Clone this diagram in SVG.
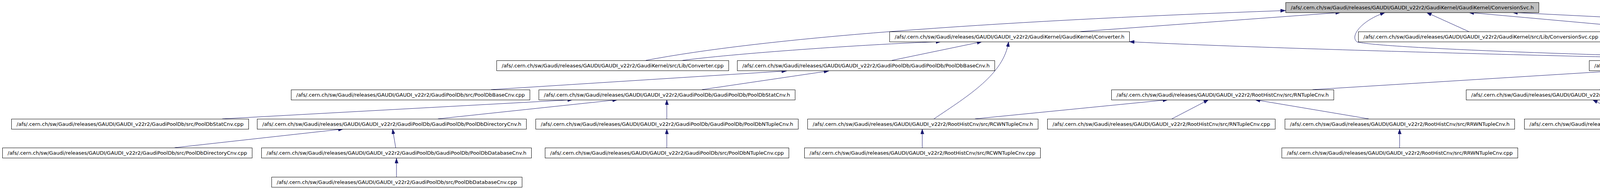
<svg xmlns="http://www.w3.org/2000/svg" width="6739" height="485" viewBox="0 0 6739 485">
<style>
.node rect{fill:#ffffff;stroke:#000000;stroke-width:1}
.node.root rect{fill:#bfbfbf}
.node text{font-family:"DejaVu Sans","Liberation Sans",sans-serif;font-size:13px;text-anchor:middle;fill:#000000}
.edges path{fill:none;stroke:#191970;stroke-width:1;marker-end:url(#arr)}
</style>
<defs>
<marker id="arr" markerUnits="userSpaceOnUse" markerWidth="13" markerHeight="9" refX="13" refY="4.5" orient="auto">
<path d="M0,0 L13,4.5 L0,9 z" fill="#191970" stroke="#191970" stroke-width="0.5"/>
</marker>
</defs>
<rect x="0" y="0" width="6739" height="485" fill="#ffffff"/>
<g class="edges" id="edges">
<path d="M1653,155 Q2100,70 3291,27"/>
<path d="M1747,155 C1900,135 2250,112 2409,107"/>
<path d="M2766,81 L3432,32"/>
<path d="M3760,81 L3652,32"/>
<path d="M4304,81 L3760,32"/>
<path d="M4855,81 L3872,32"/>
<path d="M2283,155 L2514,107"/>
<path d="M2391,305 C2480,245 2570,190 2582,107"/>
<path d="M4560,155 C4300,152 3300,128 2891,107"/>
<path d="M4665,155 C4200,146 3560,126 3475,108 C3455,96 3480,55 3546,32"/>
<path d="M5334,155 L4642,107"/>
<path d="M1257,230 L2014,182"/>
<path d="M1797,230 L2122,182"/>
<path d="M3360,230 L4135,182"/>
<path d="M4095,230 L4290,182"/>
<path d="M4602,230 L4409,182"/>
<path d="M5100,230 L4509,182"/>
<path d="M6150,230 L4613,182"/>
<path d="M6185,230 L4626,182"/>
<path d="M6195,230 L5193,182"/>
<path d="M569,305 L1466,256"/>
<path d="M1121,305 L1581,256"/>
<path d="M1707,305 L1707,256"/>
<path d="M2496,305 L2990,256"/>
<path d="M3000,305 L3094,256"/>
<path d="M3504,305 L3213,256"/>
<path d="M4174,305 L4077,256"/>
<path d="M4667,305 L4178,256"/>
<path d="M5269,305 L4790,256"/>
<path d="M5887,305 L5399,256"/>
<path d="M447,379 L879,331"/>
<path d="M1013,379 L1005,331"/>
<path d="M1707,379 L1707,331"/>
<path d="M2361,379 L2361,331"/>
<path d="M3583,379 L3583,331"/>
<path d="M4797,379 L4797,331"/>
<path d="M1015,454 L1015,406"/>
</g>
<g class="node root" id="n0"><rect x="3291.5" y="6.5" width="648" height="26"/><text x="3615.5" y="24" textLength="622" lengthAdjust="spacingAndGlyphs">/afs/.cern.ch/sw/Gaudi/releases/GAUDI/GAUDI_v22r2/GaudiKernel/GaudiKernel/ConversionSvc.h</text></g>
<g class="node" id="n1"><rect x="2277.5" y="81.5" width="614" height="26"/><text x="2584.5" y="99" textLength="588" lengthAdjust="spacingAndGlyphs">/afs/.cern.ch/sw/Gaudi/releases/GAUDI/GAUDI_v22r2/GaudiKernel/GaudiKernel/Converter.h</text></g>
<g class="node" id="n2"><rect x="3477.5" y="81.5" width="627" height="26"/><text x="3791" y="99" textLength="601" lengthAdjust="spacingAndGlyphs">/afs/.cern.ch/sw/Gaudi/releases/GAUDI/GAUDI_v22r2/GaudiKernel/src/Lib/ConversionSvc.cpp</text></g>
<g class="node" id="n3"><rect x="4127.5" y="81.5" width="652" height="26"/><text x="4453.5" y="99" textLength="626" lengthAdjust="spacingAndGlyphs">/afs/.cern.ch/sw/Gaudi/releases/GAUDI/GAUDI_v22r2/GaudiPoolDb/GaudiPoolDb/PoolDbCnvSvc.h</text></g>
<g class="node" id="n4"><rect x="4802.5" y="81.5" width="629" height="26"/><text x="5117" y="99" textLength="603" lengthAdjust="spacingAndGlyphs">/afs/.cern.ch/sw/Gaudi/releases/GAUDI/GAUDI_v22r2/GaudiSvc/src/NTupleSvc/NTupleSvc.cpp</text></g>
<g class="node" id="n5"><rect x="1271.5" y="155.5" width="594" height="26"/><text x="1568.5" y="173" textLength="568" lengthAdjust="spacingAndGlyphs">/afs/.cern.ch/sw/Gaudi/releases/GAUDI/GAUDI_v22r2/GaudiKernel/src/Lib/Converter.cpp</text></g>
<g class="node" id="n6"><rect x="1887.5" y="155.5" width="659" height="26"/><text x="2217" y="173" textLength="633" lengthAdjust="spacingAndGlyphs">/afs/.cern.ch/sw/Gaudi/releases/GAUDI/GAUDI_v22r2/GaudiPoolDb/GaudiPoolDb/PoolDbBaseCnv.h</text></g>
<g class="node" id="n7"><rect x="4068.5" y="155.5" width="563" height="26"/><text x="4350" y="173" textLength="537" lengthAdjust="spacingAndGlyphs">/afs/.cern.ch/sw/Gaudi/releases/GAUDI/GAUDI_v22r2/RootHistCnv/src/RConverter.h</text></g>
<g class="node" id="n8"><rect x="4655.5" y="155.5" width="542" height="26"/><text x="4926.5" y="173" textLength="516" lengthAdjust="spacingAndGlyphs">/afs/.cern.ch/sw/Gaudi/releases/GAUDI/GAUDI_v22r2/RootHistCnv/src/PersSvc.h</text></g>
<g class="node" id="n9"><rect x="5219.5" y="155.5" width="604" height="26"/><text x="5521.5" y="173" textLength="578" lengthAdjust="spacingAndGlyphs">/afs/.cern.ch/sw/Gaudi/releases/GAUDI/GAUDI_v22r2/GaudiPoolDb/src/PoolDbCnvSvc.cpp</text></g>
<g class="node" id="n10"><rect x="745.5" y="230.5" width="611" height="26"/><text x="1051" y="248" textLength="585" lengthAdjust="spacingAndGlyphs">/afs/.cern.ch/sw/Gaudi/releases/GAUDI/GAUDI_v22r2/GaudiPoolDb/src/PoolDbBaseCnv.cpp</text></g>
<g class="node" id="n11"><rect x="1379.5" y="230.5" width="656" height="26"/><text x="1707.5" y="248" textLength="630" lengthAdjust="spacingAndGlyphs">/afs/.cern.ch/sw/Gaudi/releases/GAUDI/GAUDI_v22r2/GaudiPoolDb/GaudiPoolDb/PoolDbStatCnv.h</text></g>
<g class="node" id="n12"><rect x="2845.5" y="230.5" width="569" height="26"/><text x="3130" y="248" textLength="543" lengthAdjust="spacingAndGlyphs">/afs/.cern.ch/sw/Gaudi/releases/GAUDI/GAUDI_v22r2/RootHistCnv/src/RNTupleCnv.h</text></g>
<g class="node" id="n13"><rect x="3753.5" y="230.5" width="584" height="26"/><text x="4045.5" y="248" textLength="558" lengthAdjust="spacingAndGlyphs">/afs/.cern.ch/sw/Gaudi/releases/GAUDI/GAUDI_v22r2/RootHistCnv/src/RDirectoryCnv.h</text></g>
<g class="node" id="n14"><rect x="4362.5" y="230.5" width="590" height="26"/><text x="4657.5" y="248" textLength="564" lengthAdjust="spacingAndGlyphs">/afs/.cern.ch/sw/Gaudi/releases/GAUDI/GAUDI_v22r2/RootHistCnv/src/RHistogramCnv.h</text></g>
<g class="node" id="n15"><rect x="4976.5" y="230.5" width="574" height="26"/><text x="5263.5" y="248" textLength="548" lengthAdjust="spacingAndGlyphs">/afs/.cern.ch/sw/Gaudi/releases/GAUDI/GAUDI_v22r2/RootHistCnv/src/DirectoryCnv.h</text></g>
<g class="node" id="n16"><rect x="5574.5" y="230.5" width="580" height="26"/><text x="5864.5" y="248" textLength="554" lengthAdjust="spacingAndGlyphs">/afs/.cern.ch/sw/Gaudi/releases/GAUDI/GAUDI_v22r2/RootHistCnv/src/RConverter.cpp</text></g>
<g class="node" id="n17"><rect x="6176.5" y="230.5" width="558" height="26"/><text x="6455.5" y="248" textLength="532" lengthAdjust="spacingAndGlyphs">/afs/.cern.ch/sw/Gaudi/releases/GAUDI/GAUDI_v22r2/RootHistCnv/src/PersSvc.cpp</text></g>
<g class="node" id="n18"><rect x="29.5" y="305.5" width="607" height="26"/><text x="333" y="323" textLength="581" lengthAdjust="spacingAndGlyphs">/afs/.cern.ch/sw/Gaudi/releases/GAUDI/GAUDI_v22r2/GaudiPoolDb/src/PoolDbStatCnv.cpp</text></g>
<g class="node" id="n19"><rect x="658.5" y="305.5" width="689" height="26"/><text x="1003" y="323" textLength="663" lengthAdjust="spacingAndGlyphs">/afs/.cern.ch/sw/Gaudi/releases/GAUDI/GAUDI_v22r2/GaudiPoolDb/GaudiPoolDb/PoolDbDirectoryCnv.h</text></g>
<g class="node" id="n20"><rect x="1371.5" y="305.5" width="672" height="26"/><text x="1707.5" y="323" textLength="646" lengthAdjust="spacingAndGlyphs">/afs/.cern.ch/sw/Gaudi/releases/GAUDI/GAUDI_v22r2/GaudiPoolDb/GaudiPoolDb/PoolDbNTupleCnv.h</text></g>
<g class="node" id="n21"><rect x="2067.5" y="305.5" width="590" height="26"/><text x="2362.5" y="323" textLength="564" lengthAdjust="spacingAndGlyphs">/afs/.cern.ch/sw/Gaudi/releases/GAUDI/GAUDI_v22r2/RootHistCnv/src/RCWNTupleCnv.h</text></g>
<g class="node" id="n22"><rect x="2681.5" y="305.5" width="583" height="26"/><text x="2973" y="323" textLength="557" lengthAdjust="spacingAndGlyphs">/afs/.cern.ch/sw/Gaudi/releases/GAUDI/GAUDI_v22r2/RootHistCnv/src/RNTupleCnv.cpp</text></g>
<g class="node" id="n23"><rect x="3289.5" y="305.5" width="588" height="26"/><text x="3583.5" y="323" textLength="562" lengthAdjust="spacingAndGlyphs">/afs/.cern.ch/sw/Gaudi/releases/GAUDI/GAUDI_v22r2/RootHistCnv/src/RRWNTupleCnv.h</text></g>
<g class="node" id="n24"><rect x="3902.5" y="305.5" width="600" height="26"/><text x="4202.5" y="323" textLength="574" lengthAdjust="spacingAndGlyphs">/afs/.cern.ch/sw/Gaudi/releases/GAUDI/GAUDI_v22r2/RootHistCnv/src/RDirectoryCnv.cpp</text></g>
<g class="node" id="n25"><rect x="4525.5" y="305.5" width="545" height="26"/><text x="4798" y="323" textLength="519" lengthAdjust="spacingAndGlyphs">/afs/.cern.ch/sw/Gaudi/releases/GAUDI/GAUDI_v22r2/RootHistCnv/src/RFileCnv.h</text></g>
<g class="node" id="n26"><rect x="5094.5" y="305.5" width="606" height="26"/><text x="5397.5" y="323" textLength="580" lengthAdjust="spacingAndGlyphs">/afs/.cern.ch/sw/Gaudi/releases/GAUDI/GAUDI_v22r2/RootHistCnv/src/RHistogramCnv.cpp</text></g>
<g class="node" id="n27"><rect x="5722.5" y="305.5" width="591" height="26"/><text x="6018" y="323" textLength="565" lengthAdjust="spacingAndGlyphs">/afs/.cern.ch/sw/Gaudi/releases/GAUDI/GAUDI_v22r2/RootHistCnv/src/DirectoryCnv.cpp</text></g>
<g class="node" id="n28"><rect x="6.5" y="379.5" width="639" height="26"/><text x="326" y="397" textLength="613" lengthAdjust="spacingAndGlyphs">/afs/.cern.ch/sw/Gaudi/releases/GAUDI/GAUDI_v22r2/GaudiPoolDb/src/PoolDbDirectoryCnv.cpp</text></g>
<g class="node" id="n29"><rect x="669.5" y="379.5" width="691" height="26"/><text x="1015" y="397" textLength="665" lengthAdjust="spacingAndGlyphs">/afs/.cern.ch/sw/Gaudi/releases/GAUDI/GAUDI_v22r2/GaudiPoolDb/GaudiPoolDb/PoolDbDatabaseCnv.h</text></g>
<g class="node" id="n30"><rect x="1395.5" y="379.5" width="624" height="26"/><text x="1707.5" y="397" textLength="598" lengthAdjust="spacingAndGlyphs">/afs/.cern.ch/sw/Gaudi/releases/GAUDI/GAUDI_v22r2/GaudiPoolDb/src/PoolDbNTupleCnv.cpp</text></g>
<g class="node" id="n31"><rect x="2059.5" y="379.5" width="604" height="26"/><text x="2361.5" y="397" textLength="578" lengthAdjust="spacingAndGlyphs">/afs/.cern.ch/sw/Gaudi/releases/GAUDI/GAUDI_v22r2/RootHistCnv/src/RCWNTupleCnv.cpp</text></g>
<g class="node" id="n32"><rect x="3281.5" y="379.5" width="604" height="26"/><text x="3583.5" y="397" textLength="578" lengthAdjust="spacingAndGlyphs">/afs/.cern.ch/sw/Gaudi/releases/GAUDI/GAUDI_v22r2/RootHistCnv/src/RRWNTupleCnv.cpp</text></g>
<g class="node" id="n33"><rect x="4517.5" y="379.5" width="561" height="26"/><text x="4798" y="397" textLength="535" lengthAdjust="spacingAndGlyphs">/afs/.cern.ch/sw/Gaudi/releases/GAUDI/GAUDI_v22r2/RootHistCnv/src/RFileCnv.cpp</text></g>
<g class="node" id="n34"><rect x="695.5" y="454.5" width="641" height="26"/><text x="1016" y="472" textLength="615" lengthAdjust="spacingAndGlyphs">/afs/.cern.ch/sw/Gaudi/releases/GAUDI/GAUDI_v22r2/GaudiPoolDb/src/PoolDbDatabaseCnv.cpp</text></g>
</svg>
